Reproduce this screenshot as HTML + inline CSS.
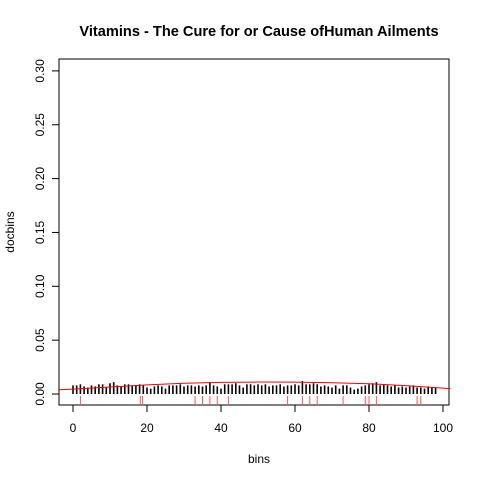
<!DOCTYPE html>
<html><head><meta charset="utf-8"><style>
body{margin:0;background:#fff}
svg{display:block;font-family:"Liberation Sans",sans-serif}
</style></head><body>
<svg id="chart" width="480" height="480">
<text x="259" y="36" text-anchor="middle" font-size="14.6" font-weight="bold">Vitamins - The Cure for or Cause ofHuman Ailments</text>
<rect x="59" y="59" width="390" height="346" fill="none" stroke="#000"/>
<text x="259" y="463" text-anchor="middle" font-size="12">bins</text>
<text transform="translate(14,232) rotate(-90)" text-anchor="middle" font-size="12">docbins</text>
<g id="axes"></g><g id="marks"></g>
</svg>
<script>
const xTicks=[0,20,40,60,80,100];
const yTicks=[0,0.05,0.10,0.15,0.20,0.25,0.30];
const yTickLabels=["0.00","0.05","0.10","0.15","0.20","0.25","0.30"];
const binValues=[0.008,0.008,0.009,0.007,0.006,0.008,0.007,0.009,0.009,0.006,0.010,0.011,0.008,0.007,0.009,0.009,0.008,0.008,0.009,0.008,0.006,0.005,0.007,0.008,0.007,0.005,0.008,0.008,0.008,0.009,0.007,0.008,0.008,0.007,0.008,0.007,0.008,0.011,0.008,0.007,0.005,0.009,0.009,0.009,0.010,0.008,0.006,0.009,0.009,0.008,0.009,0.008,0.009,0.007,0.008,0.008,0.009,0.007,0.008,0.008,0.009,0.008,0.012,0.009,0.009,0.010,0.009,0.007,0.008,0.007,0.006,0.008,0.005,0.008,0.008,0.006,0.004,0.005,0.007,0.008,0.009,0.010,0.011,0.008,0.009,0.008,0.007,0.008,0.006,0.007,0.006,0.007,0.008,0.006,0.006,0.005,0.007,0.006,0.006];
const rugPositions=[2,18.2,18.8,33,35,37,39,42,58,62,64,66,73,79,80,82,93,94];
const curveX=[-4,0,10,20,30,40,50,60,70,80,90,100,102];
const curveY=[0.0040,0.0045,0.0065,0.0085,0.0100,0.0108,0.0111,0.0110,0.0105,0.0095,0.0078,0.0055,0.0050];
const X=v=>73+v*3.7;
const Y=v=>394-v*1077;
const NS="http://www.w3.org/2000/svg";
const axes=document.getElementById('axes'),marks=document.getElementById('marks');
function mk(tag,attrs,parent){const e=document.createElementNS(NS,tag);for(const k in attrs)e.setAttribute(k,attrs[k]);parent.appendChild(e);return e;}
xTicks.forEach(t=>{
  const l=mk('line',{x1:X(t),x2:X(t),y1:405,y2:412,stroke:'#000'},axes);
  
  
  const tx=mk('text',{x:X(t),y:432,'text-anchor':'middle','font-size':12},axes);tx.textContent=t;
  
  
});
yTicks.forEach((t,i)=>{
  const l=mk('line',{x1:52,x2:59,y1:Y(t),y2:Y(t),stroke:'#000'},axes);
  
  
  const tx=mk('text',{transform:`translate(44,${Y(t)}) rotate(-90)`,'text-anchor':'middle','font-size':12},axes);tx.textContent=yTickLabels[i];
  
  
});
binValues.forEach((v,i)=>{
  const l=mk('line',{x1:X(i),x2:X(i),y1:Y(0),y2:Y(v),stroke:'#000','stroke-width':1.6},marks);
  
  
});
rugPositions.forEach(p=>{
  const l=mk('line',{x1:X(p),x2:X(p),y1:396,y2:405,stroke:'#f55','stroke-width':1},marks);
  
  
});
const c=mk('polyline',{points:curveX.map((x,i)=>`${X(x)},${Y(curveY[i])}`).join(' '),fill:'none',stroke:'#f00','stroke-width':1},marks);


</script>
</body></html>
